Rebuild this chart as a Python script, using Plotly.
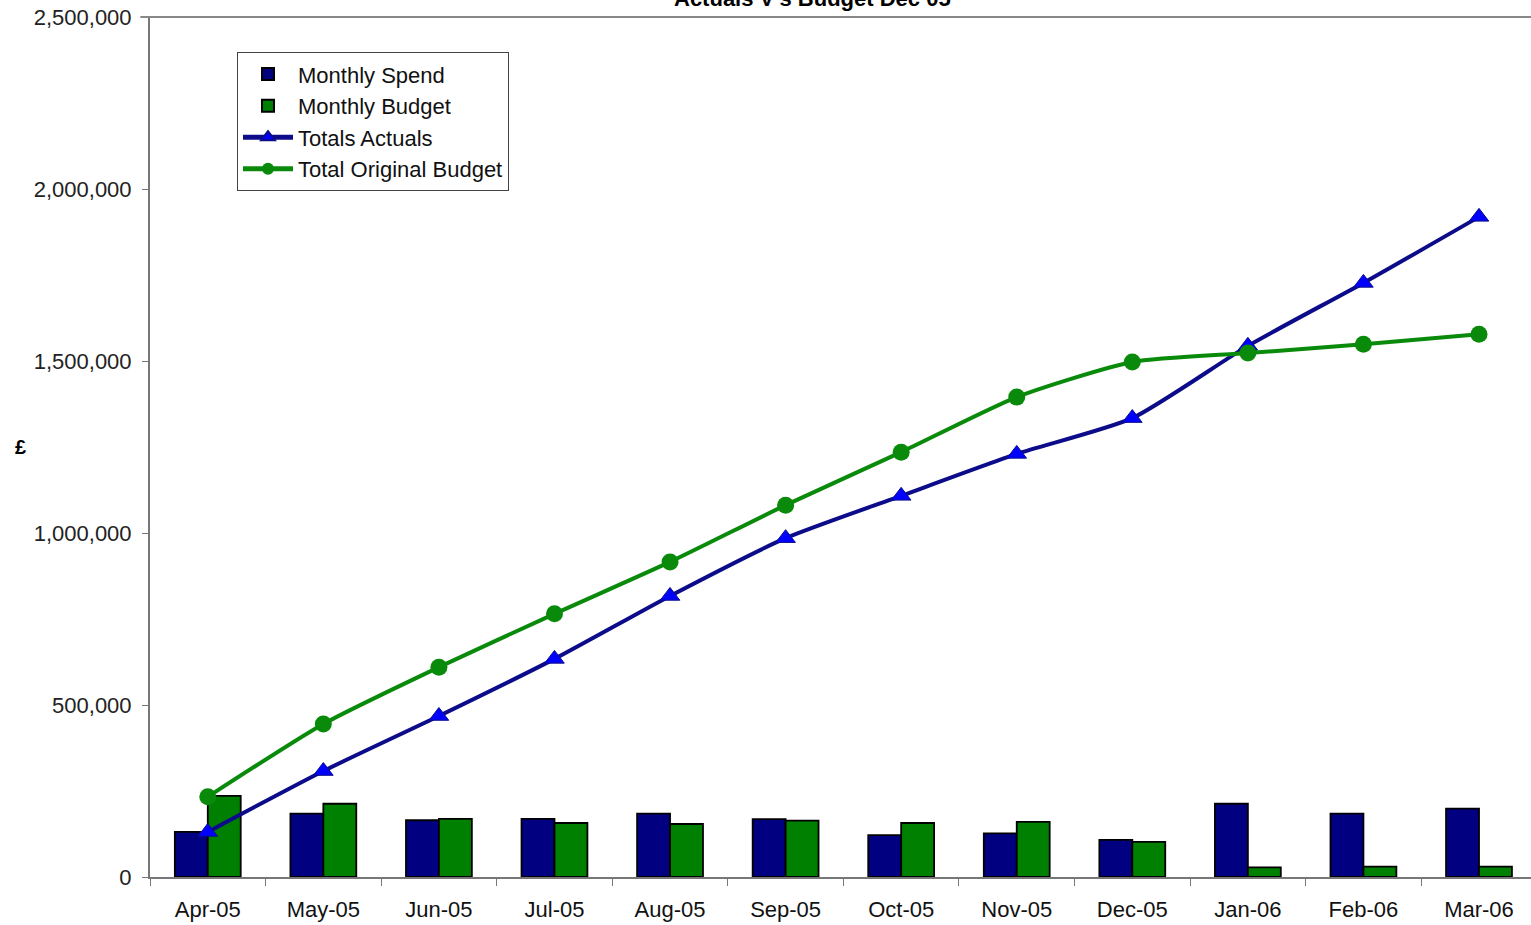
import plotly.graph_objects as go

months = ["Apr-05", "May-05", "Jun-05", "Jul-05", "Aug-05", "Sep-05",
          "Oct-05", "Nov-05", "Dec-05", "Jan-06", "Feb-06", "Mar-06"]
monthly_spend = [131000, 184000, 165000, 169000, 184000, 168000,
                 122000, 127000, 108000, 213000, 184000, 199000]
monthly_budget = [236000, 213000, 169000, 157000, 154000, 164000,
                  157000, 160000, 102000, 28000, 30000, 30000]
totals_actuals = [131000, 308000, 468000, 634000, 817000, 985000,
                  1108000, 1230000, 1334000, 1544000, 1727000, 1919000]
total_original_budget = [233000, 445000, 610000, 765000, 916000, 1081000,
                         1235000, 1395000, 1497000, 1523000, 1549000, 1578000]
y_ticks = [0, 500000, 1000000, 1500000, 2000000, 2500000]
y_tick_labels = ["0", "500,000", "1,000,000", "1,500,000", "2,000,000", "2,500,000"]

FONT = "Liberation Sans, Arial, sans-serif"

fig = go.Figure()
fig.add_trace(go.Bar(x=months, y=monthly_spend, name="Monthly Spend",
                     marker=dict(color="#000080", line=dict(color="#000000", width=1.8))))
fig.add_trace(go.Bar(x=months, y=monthly_budget, name="Monthly Budget",
                     marker=dict(color="#008000", line=dict(color="#000000", width=1.8))))
fig.add_trace(go.Scatter(x=months, y=totals_actuals, name="Totals Actuals",
                         mode="lines+markers", line=dict(color="#0c0c8a", width=4, shape="spline", smoothing=0.6),
                         marker=dict(symbol="triangle-up", size=17, color="#0000ff",
                                     line=dict(color="#0c0c8a", width=1))))
fig.add_trace(go.Scatter(x=months, y=total_original_budget, name="Total Original Budget",
                         mode="lines+markers", line=dict(color="#0a8a0a", width=4, shape="spline", smoothing=0.6),
                         marker=dict(symbol="circle", size=17, color="#0a8a0a")))

fig.update_layout(
    width=1531, height=925,
    margin=dict(l=150, r=0, t=17, b=48),
    paper_bgcolor="white", plot_bgcolor="white",
    barmode="group", bargap=0.43, bargroupgap=0,
    font=dict(family=FONT, size=21, color="#111111"),
    showlegend=True,
    legend=dict(x=0.063, y=0.959, xanchor="left", yanchor="top",
                bgcolor="white", bordercolor="#444444", borderwidth=1,
                font=dict(family=FONT, size=22, color="#111111"),
                tracegroupgap=0, itemsizing="constant", itemwidth=50),
    xaxis=dict(type="category", range=[-0.5, 11.45], showgrid=False,
               showline=True, linecolor="#777777", linewidth=1.5,
               ticks="outside", tickson="boundaries", ticklen=7, tickcolor="#777777",
               ticklabelstandoff=12,
               tickfont=dict(family=FONT, size=22, color="#111111"), zeroline=False),
    yaxis=dict(range=[0, 2500000], tickvals=y_ticks, ticktext=y_tick_labels,
               showgrid=False, showline=True, linecolor="#777777", linewidth=2,
               ticks="outside", ticklen=6, tickcolor="#777777", zeroline=False,
               ticklabelstandoff=6,
               tickfont=dict(family=FONT, size=22, color="#222222")),
)

fig.add_shape(type="line", xref="paper", yref="paper", x0=-0.007, x1=1, y0=1, y1=1,
              line=dict(color="#888888", width=2))
fig.add_annotation(text="<b>Actuals V's Budget Dec 05</b>", xref="paper", yref="paper",
                   x=0.48, y=1, xanchor="center", yanchor="bottom", yshift=4, showarrow=False,
                   font=dict(family=FONT, size=22, color="#000000"))
fig.add_annotation(text="<b>£</b>", xref="paper", yref="paper",
                   x=-0.094, y=0.5, xanchor="center", yanchor="middle", showarrow=False,
                   font=dict(family=FONT, size=20, color="#000000"))

fig.write_html("out.html")
